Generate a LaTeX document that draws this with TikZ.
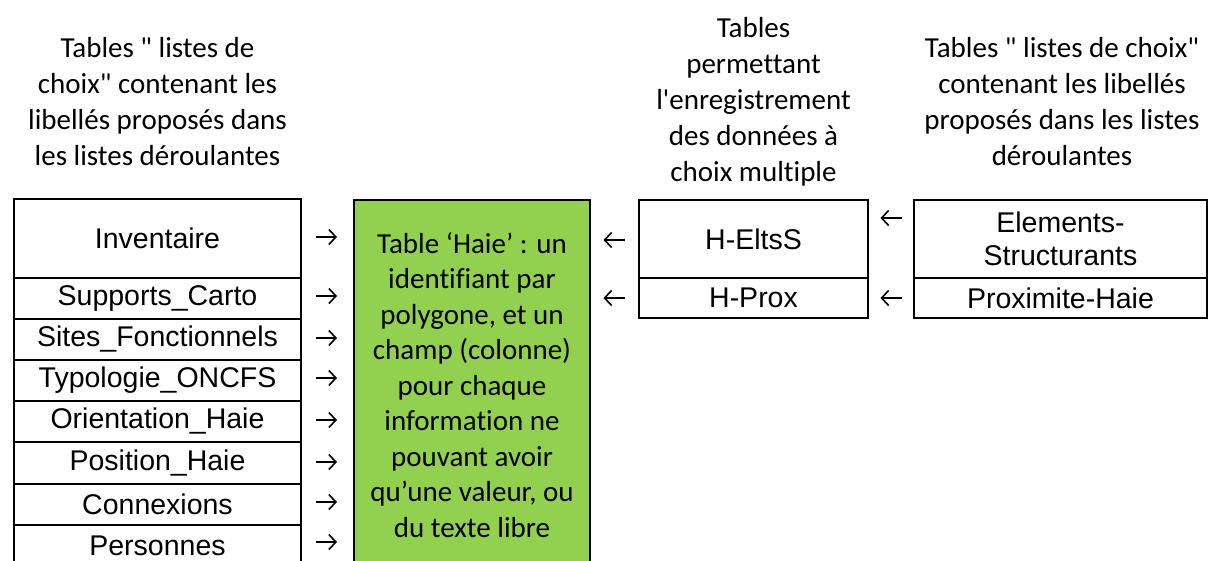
\documentclass[tikz,border=0pt]{standalone}
\usepackage{fontspec}
\usetikzlibrary{arrows.meta}
\setmainfont{Liberation Sans}
\newfontfamily\calfont[RawFeature={-liga;-clig;-dlig;-calt}]{Carlito}
\definecolor{hgreen}{HTML}{92D050}
\begin{document}
\begin{tikzpicture}[x=1pt,y=-1pt,
  row/.style={draw, line width=1.5pt, rectangle, inner sep=0pt, outer sep=0pt,
    font=\fontsize{28.5}{33}\selectfont, align=center},
  hdr/.style={font=\calfont\fontsize{29}{36}\selectfont, align=center, inner sep=0pt},
  arrline/.style={line width=1.6pt, -{Straight Barb[length=7pt,width=15pt,line width=1.6pt]}}]
\useasboundingbox (0,0) rectangle (1209,561);
\clip (0,0) rectangle (1209,561);

% headers
\node[hdr] (hl) at (157.5,101.5) {Tables " listes de\\choix" contenant les\\libellés proposés dans\\les listes déroulantes};
\node[hdr] (hm) at (753.5,101.5) {Tables\\permettant\\l'enregistrement\\des données à\\choix multiple};
\node[hdr] (hr) at (1062,101.5) {Tables " listes de choix"\\contenant les libellés\\proposés dans les listes\\déroulantes};

% left table
\node[row, minimum width=287, minimum height=79] (inv) at (157.5,238.5) {Inventaire};
\node[row, minimum width=287, minimum height=41] (sup) at (157.5,298.5) {Supports\_Carto};
\node[row, minimum width=287, minimum height=41] (sit) at (157.5,339.5) {Sites\_Fonctionnels};
\node[row, minimum width=287, minimum height=41] (typ) at (157.5,380.5) {Typologie\_ONCFS};
\node[row, minimum width=287, minimum height=41] (ori) at (157.5,421.5) {Orientation\_Haie};
\node[row, minimum width=287, minimum height=42] (pos) at (157.5,463) {Position\_Haie};
\node[row, minimum width=287, minimum height=41] (con) at (157.5,504.5) {Connexions};
\node[row, minimum width=287, minimum height=41] (per) at (157.5,545.5) {Personnes};

% green main table
\node[row, fill=hgreen, minimum width=236, minimum height=370,
  font=\calfont\fontsize{29}{35.5}\selectfont] (haie) at (472,385)
  {Table ‘Haie’ : un\\identifiant par\\polygone, et un\\champ (colonne)\\pour chaque\\information ne\\pouvant avoir\\qu’une valeur, ou\\du texte libre};

% multiple choice tables
\node[row, minimum width=229, minimum height=78] (elts) at (753.5,239) {H-EltsS};
\node[row, minimum width=229, minimum height=40] (prox) at (753.5,298) {H-Prox};
\node[row, minimum width=293, minimum height=78] (elem) at (1060.5,239) {Elements-\\Structurants};
\node[row, minimum width=293, minimum height=40] (proh) at (1060.5,298) {Proximite-Haie};

% arrow marks
\foreach \n/\y in {a1/237,a2/296,a3/338,a4/378,a5/420,a6/462,a7/502,a8/542}{
  \coordinate (\n) at (326.5,\y);
  \draw[arrline] ([xshift=-10.5pt]\n) -- ([xshift=10.5pt]\n);
}
\foreach \n/\x/\y in {b1/614/240,b2/614/298,b3/891/218,b4/891/298}{
  \coordinate (\n) at (\x,\y);
  \draw[arrline] ([xshift=10.5pt]\n) -- ([xshift=-10.5pt]\n);
}
\end{tikzpicture}
\end{document}
